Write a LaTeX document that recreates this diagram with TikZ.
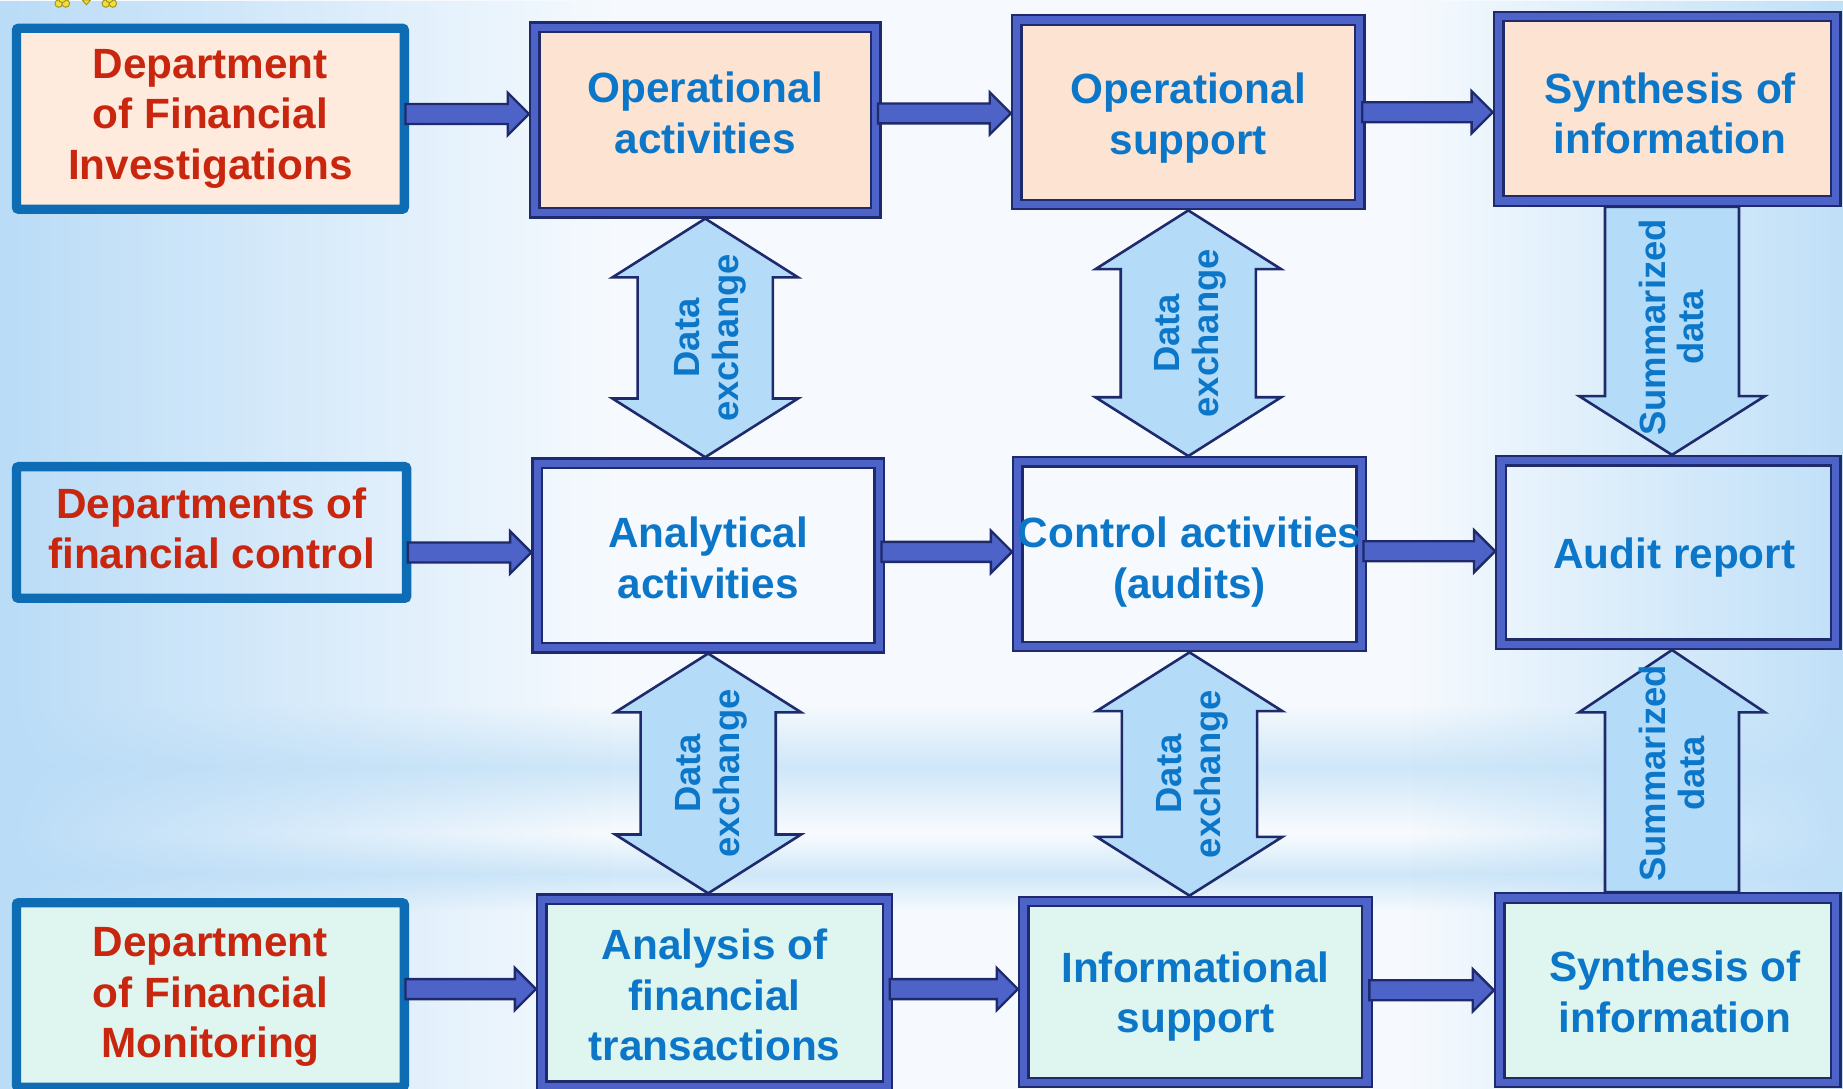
\documentclass[tikz,border=0pt]{standalone}
\usepackage{fontspec}
\setmainfont{Liberation Sans}
\usetikzlibrary{calc,fadings}
\definecolor{bgW}{HTML}{F6FAFE}
\definecolor{bgL}{HTML}{BADCF7}
\definecolor{bgR}{HTML}{C0E0F8}
\definecolor{bgBand}{HTML}{C2E1F7}
\definecolor{deptBlue}{HTML}{0D6CB4}
\definecolor{navy}{HTML}{1E2A6C}
\definecolor{midBlue}{HTML}{4E63C7}
\definecolor{arrowFill}{HTML}{B4DBF8}
\definecolor{txtRed}{HTML}{C8260E}
\definecolor{txtBlue}{HTML}{0C77C8}
\definecolor{peach}{HTML}{FDE3D1}
\definecolor{peachD}{HTML}{FEEBDE}
\definecolor{mint}{HTML}{DFF5EF}
\definecolor{logoY}{HTML}{EDE03C}
\definecolor{logoO}{HTML}{A39220}
\newcommand\bxfont{\fontsize{36}{43}\selectfont\bfseries}
\newcommand\arfont{\fontsize{31}{33}\selectfont\bfseries}
\tikzfading[name=fadeR, left color=transparent!0, right color=transparent!100]
\tikzfading[name=fadeL, left color=transparent!100, right color=transparent!0]
\tikzfading[name=fadeTB, top color=transparent!100, bottom color=transparent!100, middle color=transparent!25]
% horizontal block arrow from #1 to #2, vertical offset #3 (pt, downward positive)
\newcommand\harr[3]{\draw[harrow] let \p1=(#1.east), \p2=($(#2.west)+(0,#3)$) in
  (\x1-3,\y2+8.5) -- (\x2-18,\y2+8.5) -- (\x2-18,\y2+18) -- (\x2,\y2) --
  (\x2-18,\y2-18) -- (\x2-18,\y2-8.5) -- (\x1-3,\y2-8.5) -- cycle;}
\newcommand\darr[2]{\draw[varrow] let \p1=(#1.south), \p2=(#2.north) in
  (\x1,\y1) -- (\x1+79,\y1-50) -- (\x1+57.5,\y1-50) -- (\x1+57.5,\y2+50) --
  (\x1+79,\y2+50) -- (\x1,\y2) -- (\x1-79,\y2+50) -- (\x1-57.5,\y2+50) --
  (\x1-57.5,\y1-50) -- (\x1-79,\y1-50) -- cycle;}
\newcommand\sdown[2]{\draw[varrow] let \p1=(#1.south), \p2=(#2.north) in
  (\x2-54,\y1) -- (\x2+60,\y1) -- (\x2+60,\y2+50) -- (\x2+82,\y2+50) --
  (\x2+3,\y2) -- (\x2-76,\y2+50) -- (\x2-54,\y2+50) -- cycle;}
\newcommand\sarrup[2]{\draw[varrow] let \p1=(#1.south), \p2=(#2.north) in
  (\x1+3,\y1) -- (\x1+82,\y1-53) -- (\x1+60,\y1-53) -- (\x1+60,\y2) --
  (\x1-54,\y2) -- (\x1-54,\y1-53) -- (\x1-76,\y1-53) -- cycle;}
\begin{document}
\begin{tikzpicture}[x=1pt,y=-1pt,
  dept/.style={draw=deptBlue, line width=8pt, rounded corners=2pt, outer sep=4pt, inner sep=0pt},
  proc/.style={draw=navy, line width=2pt, double=midBlue, double distance=6pt, outer sep=5pt, inner sep=0pt},
  dtext/.style={align=center, text=txtRed, font=\bxfont, inner sep=0pt},
  ptext/.style={align=center, text=txtBlue, font=\bxfont, inner sep=0pt},
  harrow/.style={fill=midBlue, draw=navy, line width=2pt, line join=miter},
  varrow/.style={fill=arrowFill, draw=navy, line width=2.2pt, line join=miter},
  vlabel/.style={rotate=90, align=center, text=txtBlue, font=\arfont, inner sep=0pt}]
\useasboundingbox (0,0) rectangle (1568,926.5);
% background
\fill[bgW] (0,0) rectangle (1568,926.5);
\fill[bgBand, path fading=fadeTB] (0,600) rectangle (1568,705);
\fill[bgBand, path fading=fadeTB] (0,712) rectangle (1568,775);
\fill[bgL, path fading=fadeR] (0,0) rectangle (520,926.5);
\fill[bgR, path fading=fadeL] (1200,0) rectangle (1568,926.5);
% logo fragment
\foreach \c in {(50,3),(56,3),(53,-1),(90,3),(96,3),(93,-1)}
  \filldraw[fill=logoY, draw=logoO, line width=0.8pt] \c circle (3.2);
\filldraw[fill=logoY, draw=logoO, line width=0.8pt] (70,0) -- (73.5,4) -- (77,0) -- cycle;
% department boxes
\node[dept, fill=peachD, minimum width=330, minimum height=154] (D1) at (179,101) {};
\node[dept, minimum width=332, minimum height=112] (D2) at (180,453) {};
\node[dept, fill=mint, minimum width=330, minimum height=157] (D3) at (179,846.5) {};
\node[dtext] (D1t) at ($(D1.center)+(0,0)$) {Department\\of Financial\\Investigations};
\node[dtext] (D2t) at ($(D2.center)+(0,-3.5)$) {Departments of\\financial control};
\node[dtext] (D3t) at ($(D3.center)+(0,2)$) {Department\\of Financial\\Monitoring};
% process boxes
\node[proc, fill=peach, minimum width=290, minimum height=158] (P11) at (600,102) {};
\node[proc, fill=peach, minimum width=292, minimum height=157] (P12) at (1011,95.5) {};
\node[proc, fill=peach, minimum width=287, minimum height=157] (P13) at (1418.5,92.5) {};
\node[proc, minimum width=291, minimum height=157] (P21) at (602.5,472.5) {};
\node[proc, minimum width=292, minimum height=157] (P22) at (1012,471.5) {};
\node[proc, minimum width=285, minimum height=156] (P23) at (1419.5,470) {};
\node[proc, fill=mint, minimum width=294, minimum height=159] (P31) at (608,844.5) {};
\node[proc, fill=mint, minimum width=292, minimum height=154] (P32) at (1017,844) {};
\node[proc, fill=mint, minimum width=286, minimum height=157] (P33) at (1419,842.5) {};
\node[ptext] (P11t) at ($(P11.center)+(0,-6)$) {Operational\\activities};
\node[ptext] (P12t) at ($(P12.center)+(0,5)$) {Operational\\support};
\node[ptext] (P13t) at ($(P13.center)+(2.5,4)$) {Synthesis of\\information};
\node[ptext] (P21t) at ($(P21.center)+(0,2)$) {Analytical\\activities};
\node[ptext] (P22t) at ($(P22.center)+(0,6.5)$) {Control activities\\(audits)};
\node[ptext] (P23t) at ($(P23.center)+(5,4)$) {Audit report};
\node[ptext] (P31t) at ($(P31.center)+(0,2)$) {Analysis of\\financial\\transactions};
\node[ptext] (P32t) at ($(P32.center)+(0,4)$) {Informational\\support};
\node[ptext] (P33t) at ($(P33.center)+(6,1.5)$) {Synthesis of\\information};
% horizontal arrows
\harr{D1}{P11}{-5} \harr{P11}{P12}{1} \harr{P12}{P13}{3}
\harr{D2}{P21}{-2.5} \harr{P21}{P22}{-2} \harr{P22}{P23}{-1}
\harr{D3}{P31}{-3} \harr{P31}{P32}{-2.5} \harr{P32}{P33}{0}
% vertical arrows
\darr{P11}{P21} \darr{P12}{P22}
\darr{P21}{P31} \darr{P22}{P32}
\sdown{P13}{P23}
\sarrup{P23}{P33}
% labels
\node[vlabel] (L1) at ($(P11.south)!0.5!(P21.north)+(3,0)$) {Data\\exchange};
\node[vlabel] (L2) at ($(P12.south)!0.5!(P22.north)+(1,0)$) {Data\\exchange};
\node[vlabel] (L3) at ($(P21.south)!0.5!(P31.north)$) {Data\\exchange};
\node[vlabel] (L4) at ($(P22.south)!0.5!(P32.north)$) {Data\\exchange};
\node[vlabel] (L5) at ($(P13.south)!0.5!(P23.north)+(3,-3)$) {Summarized\\data};
\node[vlabel] (L6) at ($(P23.south)!0.5!(P33.north)+(3,2)$) {Summarized\\data};
\end{tikzpicture}
\end{document}
